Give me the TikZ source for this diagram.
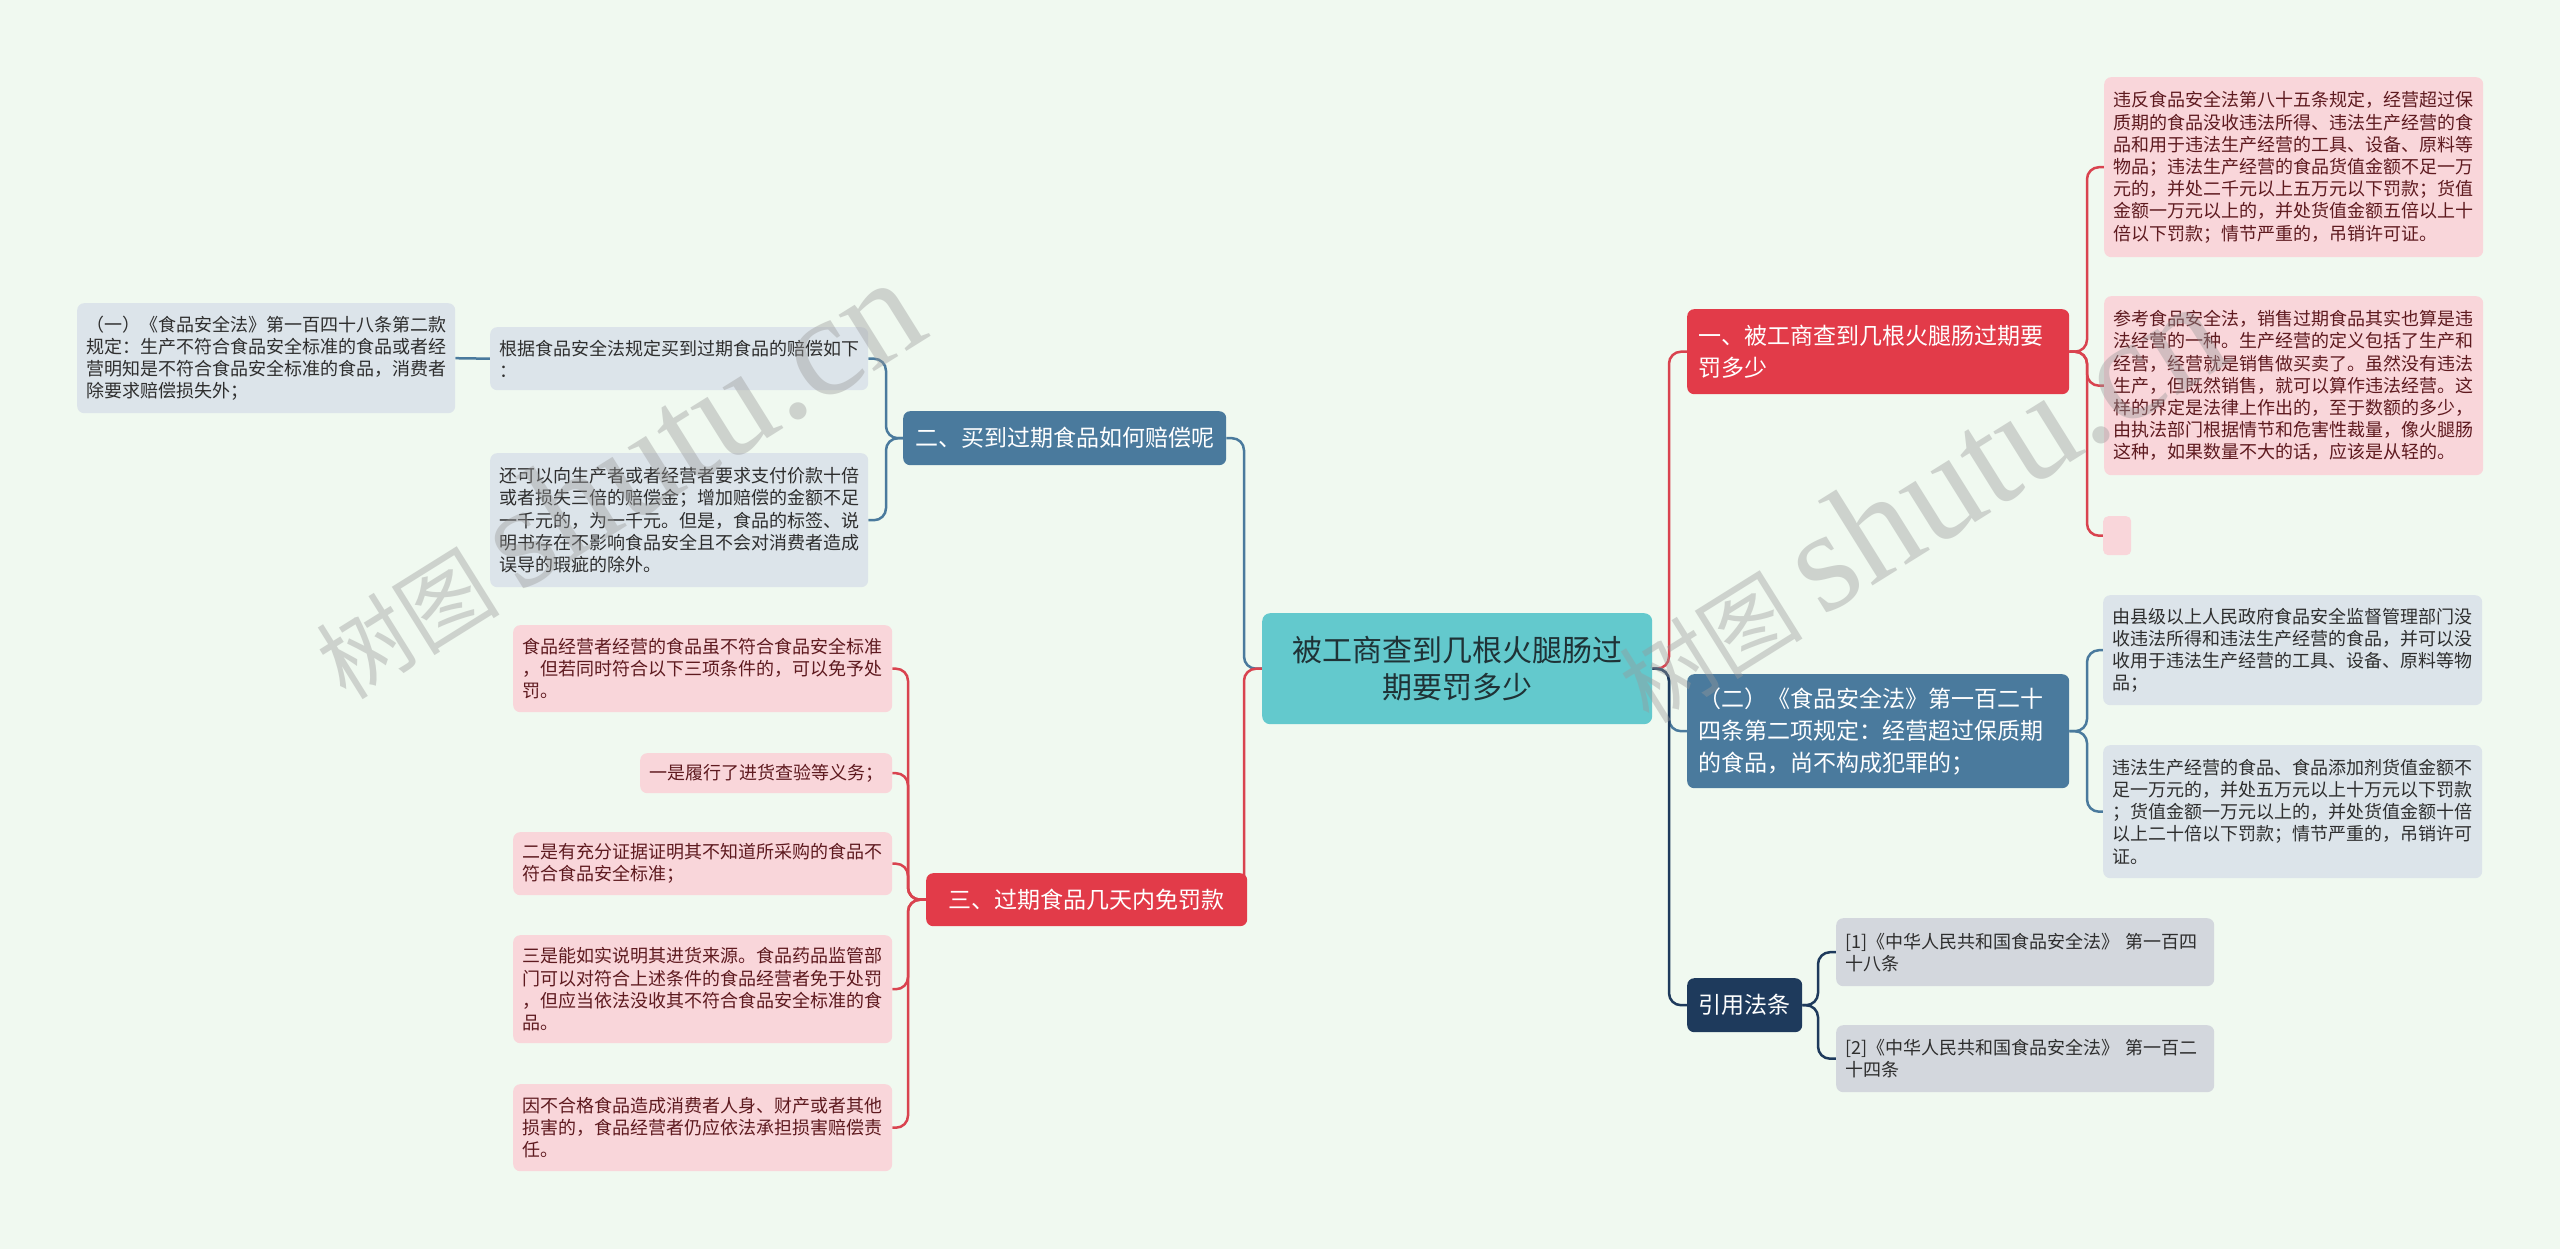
\documentclass[tikz,border=0pt]{standalone}
\usepackage{fontspec}
\newfontfamily\cjk{Noto Sans CJK SC}
\newfontfamily\wmserif{Liberation Serif}
\pgfdeclarelayer{bgl}
\pgfdeclarelayer{lines}
\pgfdeclarelayer{front}
\pgfsetlayers{bgl,lines,main,front}
\definecolor{bgc}{HTML}{F0F9F0}
\definecolor{tealc}{HTML}{63C9CD}
\definecolor{centtx}{HTML}{1F3236}
\definecolor{redc}{HTML}{E23B49}
\definecolor{bluec}{HTML}{4A7A9D}
\definecolor{navyc}{HTML}{1E3A5C}
\definecolor{pinkbg}{HTML}{F9D6DA}
\definecolor{pinktx}{HTML}{5E1A1F}
\definecolor{bluebg}{HTML}{DCE4EA}
\definecolor{graybg}{HTML}{D3D7DD}
\definecolor{leaftx}{HTML}{2E2E2E}
\definecolor{redln}{HTML}{D9434F}
\tikzset{
  leaf/.style={rounded corners=7pt, inner xsep=9pt, inner ysep=0pt, anchor=north west, align=left, font=\cjk\fontsize{18pt}{22.2pt}\selectfont},
  pinkleaf/.style={leaf, fill=pinkbg, text=pinktx},
  blueleaf/.style={leaf, fill=bluebg, text=leaftx},
  grayleaf/.style={leaf, fill=graybg, text=leaftx},
  branch/.style={rounded corners=7pt, inner xsep=11pt, inner ysep=0pt, anchor=north west, align=left, text=white, font=\cjk\fontsize{23pt}{32pt}\selectfont},
  conn/.style={line width=2.5pt, rounded corners=12pt},
  wm/.style={text=black!40, text opacity=0.4, anchor=base west, inner sep=0pt}
}
\begin{document}
\begin{tikzpicture}[x=1pt,y=-1pt]
\begin{pgfonlayer}{bgl}
\fill[bgc] (0,0) rectangle (2560,1249);
\end{pgfonlayer}
\useasboundingbox (0,0) rectangle (2560,1249);

% center
\node[rounded corners=8pt, fill=tealc, text=centtx, inner xsep=15pt, inner ysep=0pt, anchor=north west, align=center,
      text width=360pt, minimum height=111pt, font=\cjk\fontsize{30pt}{37pt}\selectfont] (c) at (1262,613)
  {被工商查到几根火腿肠过\\期要罚多少};

% right branches
\node[branch, fill=redc, text width=360pt, minimum height=85pt] (n1) at (1687,309)
  {一、被工商查到几根火腿肠过期要\\罚多少};
\node[branch, fill=bluec, text width=360pt, minimum height=114pt] (n2r) at (1687,674)
  {（二）《食品安全法》第一百二十\\四条第二项规定：经营超过保质期\\的食品，尚不构成犯罪的；};
\node[branch, fill=navyc, align=center, text width=93pt, minimum height=54pt] (ref) at (1687,978)
  {引用法条};

% left branches
\node[branch, fill=bluec, align=center, text width=301pt, minimum height=54pt] (n2l) at (903,411)
  {二、买到过期食品如何赔偿呢};
\node[branch, fill=redc, align=center, text width=299pt, minimum height=53pt] (n3) at (926,873)
  {三、过期食品几天内免罚款};

% right leaves
\node[pinkleaf, text width=361pt, minimum height=180pt] (r1) at (2104,77)
  {违反食品安全法第八十五条规定，经营超过保\\质期的食品没收违法所得、违法生产经营的食\\品和用于违法生产经营的工具、设备、原料等\\物品；违法生产经营的食品货值金额不足一万\\元的，并处二千元以上五万元以下罚款；货值\\金额一万元以上的，并处货值金额五倍以上十\\倍以下罚款；情节严重的，吊销许可证。};
\node[pinkleaf, text width=361pt, minimum height=179pt] (r2) at (2104,296)
  {参考食品安全法，销售过期食品其实也算是违\\法经营的一种。生产经营的定义包括了生产和\\经营，经营就是销售做买卖了。虽然没有违法\\生产，但既然销售，就可以算作违法经营。这\\样的界定是法律上作出的，至于数额的多少，\\由执法部门根据情节和危害性裁量，像火腿肠\\这种，如果数量不大的话，应该是从轻的。};
\node[rounded corners=5pt, fill=pinkbg, inner sep=0pt, anchor=north west, minimum width=28pt, minimum height=39pt] (r3) at (2103,516) {};
\node[blueleaf, text width=361pt, minimum height=110pt] (r4) at (2103,595)
  {由县级以上人民政府食品安全监督管理部门没\\收违法所得和违法生产经营的食品，并可以没\\收用于违法生产经营的工具、设备、原料等物\\品；};
\node[blueleaf, text width=361pt, minimum height=133pt] (r5) at (2103,745)
  {违法生产经营的食品、食品添加剂货值金额不\\足一万元的，并处五万元以上十万元以下罚款\\；货值金额一万元以上的，并处货值金额十倍\\以上二十倍以下罚款；情节严重的，吊销许可\\证。};
\node[grayleaf, text width=360pt, minimum height=68pt] (ref1) at (1836,918)
  {[1]《中华人民共和国食品安全法》~第一百四\\十八条};
\node[grayleaf, text width=360pt, minimum height=67pt] (ref2) at (1836,1025)
  {[2]《中华人民共和国食品安全法》~第一百二\\十四条};

% left leaves
\node[blueleaf, text width=360pt, minimum height=63pt] (la) at (490,327)
  {根据食品安全法规定买到过期食品的赔偿如下\\：};
\node[blueleaf, text width=360pt, minimum height=134pt] (lb) at (490,453)
  {还可以向生产者或者经营者要求支付价款十倍\\或者损失三倍的赔偿金；增加赔偿的金额不足\\一千元的，为一千元。但是，食品的标签、说\\明书存在不影响食品安全且不会对消费者造成\\误导的瑕疵的除外。};
\node[blueleaf, text width=360pt, minimum height=110pt] (lfar) at (77,303)
  {（一）《食品安全法》第一百四十八条第二款\\规定：生产不符合食品安全标准的食品或者经\\营明知是不符合食品安全标准的食品，消费者\\除要求赔偿损失外；};

\node[pinkleaf, text width=361pt, minimum height=87pt] (p1) at (513,625)
  {食品经营者经营的食品虽不符合食品安全标准\\，但若同时符合以下三项条件的，可以免予处\\罚。};
\node[pinkleaf, text width=234pt, minimum height=40pt] (p2) at (640,753)
  {一是履行了进货查验等义务；};
\node[pinkleaf, text width=361pt, minimum height=63pt] (p3) at (513,832)
  {二是有充分证据证明其不知道所采购的食品不\\符合食品安全标准；};
\node[pinkleaf, text width=361pt, minimum height=108pt] (p4) at (513,935)
  {三是能如实说明其进货来源。食品药品监管部\\门可以对符合上述条件的食品经营者免于处罚\\，但应当依法没收其不符合食品安全标准的食\\品。};
\node[pinkleaf, text width=361pt, minimum height=87pt] (p5) at (513,1084)
  {因不合格食品造成消费者人身、财产或者其他\\损害的，食品经营者仍应依法承担损害赔偿责\\任。};

% trunk coordinates
\coordinate (tR) at (1669,0);
\coordinate (tL) at (1244,0);
\coordinate (t1) at (2087,0);
\coordinate (tref) at (1818,0);
\coordinate (t2l) at (886,0);
\coordinate (t3) at (908,0);

\begin{pgfonlayer}{lines}
\draw[conn, redln] (c.east) -- (c.east -| tR) |- (n1.west);
\draw[conn, bluec] (c.east) -- (c.east -| tR) |- (n2r.west);
\draw[conn, navyc] (c.east) -- (c.east -| tR) |- (ref.west);
\draw[conn, bluec] (c.west) -- (c.west -| tL) |- (n2l.east);
\draw[conn, redln] (c.west) -- (c.west -| tL) -- (n3.center -| tL);

\draw[conn, redln] (n1.east) -- (n1.east -| t1) |- (r1.west);
\draw[conn, redln] (n1.east) -- (n1.east -| t1) |- (r2.west);
\draw[conn, redln] (n1.east) -- (n1.east -| t1) |- (r3.west);
\draw[conn, bluec] (n2r.east) -- (n2r.east -| t1) |- (r4.west);
\draw[conn, bluec] (n2r.east) -- (n2r.east -| t1) |- (r5.west);
\draw[conn, navyc] (ref.east) -- (ref.east -| tref) |- (ref1.west);
\draw[conn, navyc] (ref.east) -- (ref.east -| tref) |- (ref2.west);

\draw[conn, bluec] (n2l.west) -- (n2l.west -| t2l) |- (la.east);
\draw[conn, bluec] (n2l.west) -- (n2l.west -| t2l) |- (lb.east);
\draw[conn, bluec] (la.west) -- (lfar.east);

\draw[conn, redln] (n3.west) -- (n3.west -| t3) |- (p1.east);
\draw[conn, redln] (n3.west) -- (n3.west -| t3) |- (p2.east);
\draw[conn, redln] (n3.west) -- (n3.west -| t3) |- (p3.east);
\draw[conn, redln] (n3.west) -- (n3.west -| t3) |- (p4.east);
\draw[conn, redln] (n3.west) -- (n3.west -| t3) |- (p5.east);
\end{pgfonlayer}

\begin{pgfonlayer}{front}
\node[wm, rotate=32] (wm1) at (346,702) {\cjk\fontsize{92pt}{92pt}\selectfont 树图 \wmserif\fontsize{145pt}{145pt}\selectfont shutu.cn};
\node[wm, rotate=32] (wm2) at (1649,726) {\cjk\fontsize{92pt}{92pt}\selectfont 树图 \wmserif\fontsize{145pt}{145pt}\selectfont shutu.cn};
\end{pgfonlayer}
\end{tikzpicture}
\end{document}
